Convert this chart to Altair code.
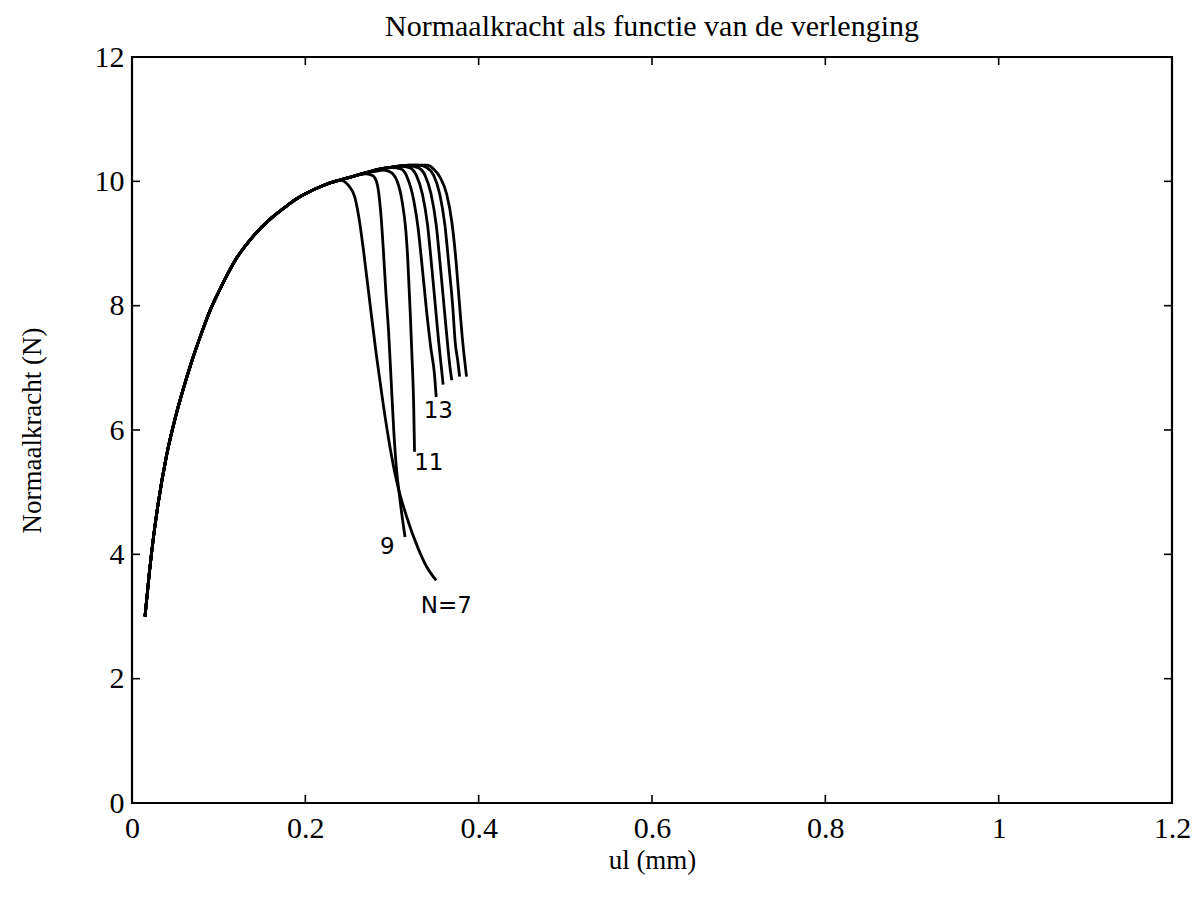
import altair as alt
import pandas as pd

# ---------------- data ----------------
# shared loading branch (all curves coincide here)
rise_x = [0.015, 0.020, 0.025, 0.030, 0.040, 0.050, 0.060, 0.070, 0.080, 0.090,
          0.100, 0.120, 0.140, 0.160, 0.180, 0.190, 0.200, 0.220, 0.240]
rise_y = [3.00, 3.70, 4.30, 4.80, 5.60, 6.20, 6.70, 7.15, 7.55, 7.92,
          8.22, 8.75, 9.12, 9.40, 9.62, 9.72, 9.80, 9.93, 10.02]

# individual branches after x = 0.24, one per curve
n7_x = [0.250, 0.257, 0.262, 0.267, 0.274, 0.282, 0.290, 0.298, 0.305, 0.317, 0.330, 0.340, 0.351]
n7_y = [9.93, 9.75, 9.40, 8.90, 8.10, 7.20, 6.40, 5.70, 5.20, 4.60, 4.10, 3.80, 3.58]

n9_x = [0.250, 0.260, 0.270, 0.278, 0.283, 0.287, 0.290, 0.293, 0.296, 0.299, 0.302, 0.305, 0.309, 0.315]
n9_y = [10.06, 10.10, 10.12, 10.09, 9.95, 9.50, 8.90, 8.20, 7.60, 6.80, 6.00, 5.40, 4.90, 4.28]

n11_x = [0.250, 0.260, 0.270, 0.280, 0.290, 0.298, 0.306, 0.312, 0.316, 0.318, 0.321, 0.323, 0.325, 0.326]
n11_y = [10.06, 10.10, 10.13, 10.16, 10.18, 10.15, 10.00, 9.65, 9.20, 8.80, 7.90, 7.20, 6.40, 5.65]

n13_x = [0.250, 0.260, 0.270, 0.280, 0.290, 0.300, 0.310, 0.318, 0.325, 0.330, 0.335, 0.340, 0.345, 0.349, 0.351]
n13_y = [10.06, 10.10, 10.14, 10.17, 10.20, 10.22, 10.20, 10.05, 9.70, 9.26, 8.60, 7.90, 7.30, 6.90, 6.53]

n15_x = [0.250, 0.260, 0.270, 0.280, 0.290, 0.300, 0.310, 0.320, 0.328, 0.335, 0.341, 0.346, 0.350, 0.354, 0.357, 0.359]
n15_y = [10.06, 10.10, 10.14, 10.18, 10.21, 10.23, 10.24, 10.22, 10.10, 9.80, 9.30, 8.60, 8.00, 7.40, 7.00, 6.73]

n17_x = [0.250, 0.260, 0.270, 0.280, 0.290, 0.300, 0.310, 0.320, 0.330, 0.338, 0.345, 0.351, 0.356, 0.360, 0.364, 0.367, 0.369]
n17_y = [10.06, 10.10, 10.14, 10.18, 10.21, 10.23, 10.25, 10.25, 10.22, 10.10, 9.80, 9.30, 8.60, 8.00, 7.40, 7.00, 6.80]

n19_x = [0.250, 0.260, 0.270, 0.280, 0.290, 0.300, 0.310, 0.320, 0.330, 0.340, 0.348, 0.355, 0.361, 0.366, 0.370, 0.373, 0.376, 0.378]
n19_y = [10.06, 10.10, 10.14, 10.18, 10.21, 10.23, 10.25, 10.26, 10.26, 10.22, 10.10, 9.80, 9.30, 8.60, 8.00, 7.40, 7.10, 6.86]

n21_x = [0.250, 0.260, 0.270, 0.280, 0.290, 0.300, 0.310, 0.320, 0.330, 0.340, 0.348, 0.356, 0.363, 0.369, 0.374, 0.378, 0.381, 0.384, 0.386]
n21_y = [10.06, 10.10, 10.14, 10.18, 10.21, 10.23, 10.25, 10.26, 10.26, 10.26, 10.20, 10.05, 9.80, 9.35, 8.70, 8.00, 7.50, 7.10, 6.86]

curve_names = ["7", "9", "11", "13", "15", "17", "19", "21"]
branch_x = [n7_x, n9_x, n11_x, n13_x, n15_x, n17_x, n19_x, n21_x]
branch_y = [n7_y, n9_y, n11_y, n13_y, n15_y, n17_y, n19_y, n21_y]

# handwritten annotations
note_text = ["13", "11", "9", "N=7"]
note_x = [0.3535, 0.3425, 0.2947, 0.3627]
note_y = [6.30, 5.47, 4.12, 3.17]

x_ticks = [0, 0.2, 0.4, 0.6, 0.8, 1.0, 1.2]
y_ticks = [0, 2, 4, 6, 8, 10, 12]

# ---------------- styles ----------------
W, H = 1040, 746
X_MAX, Y_MAX = 1.2, 12
TICK_PX = 8
FONT = "Liberation Serif"

rows = []
for name, bx, by in zip(curve_names, branch_x, branch_y):
    xs = rise_x + bx
    ys = rise_y + by
    for i, (a, b) in enumerate(zip(xs, ys)):
        rows.append({"N": name, "order": i, "ul": a, "F": b})
df = pd.DataFrame(rows)

notes = pd.DataFrame({"t": note_text, "x": note_x, "y": note_y})

xs_scale = alt.Scale(domain=[0, X_MAX], nice=False, zero=False)
ys_scale = alt.Scale(domain=[0, Y_MAX], nice=False, zero=False)

lines = alt.Chart(df).mark_line(color="black", strokeWidth=2.8, clip=True,
                                interpolate="monotone").encode(
    x=alt.X("ul:Q", scale=xs_scale,
            axis=alt.Axis(title="ul (mm)", values=x_ticks, format="~g",
                          ticks=False, domain=False, grid=False, labelFlush=False,
                          labelPadding=10, titlePadding=4)),
    y=alt.Y("F:Q", scale=ys_scale,
            axis=alt.Axis(title="Normaalkracht (N)", values=y_ticks, format="~g",
                          ticks=False, domain=False, grid=False, labelFlush=False,
                          labelPadding=8, titlePadding=48)),
    detail="N:N",
    order="order:Q",
)

text = alt.Chart(notes).mark_text(
    font="DejaVu Sans", fontSize=23, color="black", align="center", baseline="middle"
).encode(x=alt.X("x:Q", scale=xs_scale), y=alt.Y("y:Q", scale=ys_scale), text="t:N")

# inward ticks on all four sides (MATLAB box style)
dx = TICK_PX * X_MAX / W
dy = TICK_PX * Y_MAX / H
inner_x = [v for v in x_ticks if 0 < v < X_MAX]
inner_y = [v for v in y_ticks if 0 < v < Y_MAX]
tick_rows = []
for v in inner_x:
    tick_rows.append({"x": v, "x2": v, "y": 0, "y2": dy})
    tick_rows.append({"x": v, "x2": v, "y": Y_MAX, "y2": Y_MAX - dy})
for v in inner_y:
    tick_rows.append({"x": 0, "x2": dx, "y": v, "y2": v})
    tick_rows.append({"x": X_MAX, "x2": X_MAX - dx, "y": v, "y2": v})
ticks = alt.Chart(pd.DataFrame(tick_rows)).mark_rule(color="black", strokeWidth=1.6).encode(
    x=alt.X("x:Q", scale=xs_scale), x2="x2:Q",
    y=alt.Y("y:Q", scale=ys_scale), y2="y2:Q",
)

chart = alt.layer(lines, ticks, text).properties(
    width=W, height=H,
    background="white",
    autosize=alt.AutoSizeParams(type="none"),
    padding={"left": 132, "top": 57, "right": 28, "bottom": 107},
    title=alt.Title("Normaalkracht als functie van de verlenging",
                    font=FONT, fontSize=30, fontWeight="normal", color="black",
                    anchor="middle", offset=0),
).configure_view(
    stroke="black", strokeWidth=2.2
).configure_axis(
    labelFont=FONT, labelFontSize=30, labelColor="black",
    titleFont=FONT, titleFontSize=27, titleFontWeight="normal", titleColor="black",
)

chart.save("out.html", embed_options={"renderer": "svg", "actions": False})
